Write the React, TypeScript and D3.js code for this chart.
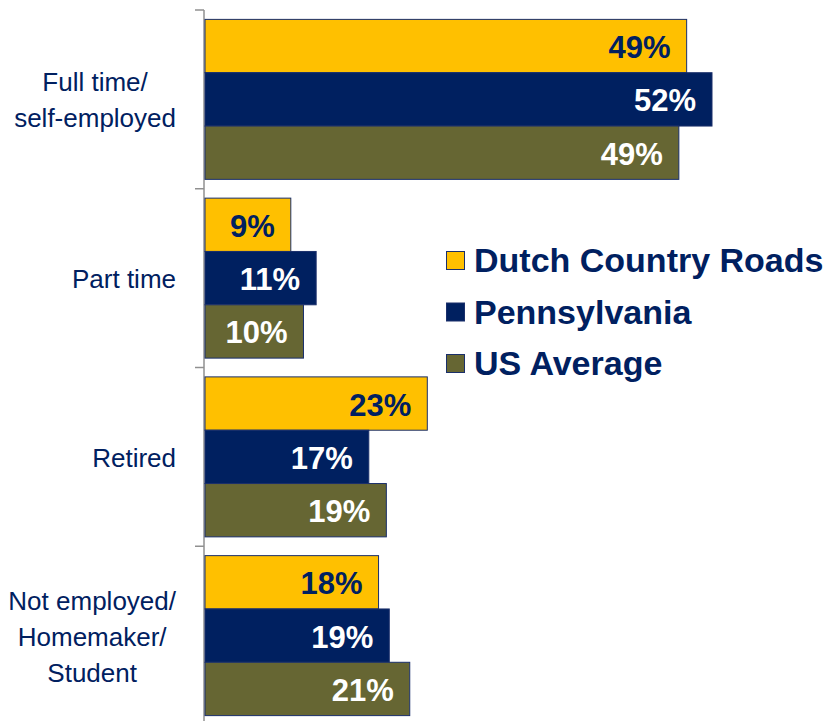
import React, { useEffect, useRef } from "react";
import * as d3 from "d3";

const width = 832;
const height = 721;

const categories = [
  ["Full time/", "self-employed"],
  ["Part time"],
  ["Retired"],
  ["Not employed/", "Homemaker/", "Student"],
];
const seriesNames = ["Dutch Country Roads", "Pennsylvania", "US Average"];
const dutchCountryRoads = [49.4, 8.8, 22.8, 17.8];
const pennsylvania = [52.0, 11.4, 16.8, 18.9];
const usAverage = [48.6, 10.1, 18.6, 21.0];

const colors = ["#FFC000", "#002060", "#666633"];
const labelColors = ["#002060", "#ffffff", "#ffffff"];
const navy = "#002060";

const App = () => {
  const svgRef = useRef<SVGSVGElement>(null);

  useEffect(() => {
    const svg = d3.select(svgRef.current);
    svg.selectAll("*").remove();

    const seriesValues = [dutchCountryRoads, pennsylvania, usAverage];

    // category bands along y, the axis runs past the bottom edge
    const yCat = d3
      .scaleBand<number>()
      .domain(d3.range(categories.length))
      .range([10, 725])
      .paddingInner(0.105)
      .paddingOuter(0.0525);

    const ySeries = d3
      .scaleBand<number>()
      .domain(d3.range(seriesNames.length))
      .range([0, yCat.bandwidth()]);

    const x = d3.scaleLinear().domain([0, 60]).range([205, 790]);

    // axis line with tick marks at the band boundaries
    const axisX = 204;
    svg
      .append("line")
      .attr("x1", axisX)
      .attr("x2", axisX)
      .attr("y1", 10)
      .attr("y2", 725)
      .attr("stroke", "#909090")
      .attr("stroke-width", 1.5);

    const step = yCat.step();
    const boundaries = d3.range(categories.length + 1).map((i) => 10 + i * step);
    svg
      .selectAll(".tick")
      .data(boundaries)
      .enter()
      .append("line")
      .attr("class", "tick")
      .attr("x1", 195)
      .attr("x2", axisX)
      .attr("y1", (d) => d)
      .attr("y2", (d) => d)
      .attr("stroke", "#909090")
      .attr("stroke-width", 1.5);

    // bars
    const groups = svg
      .selectAll(".cat")
      .data(categories)
      .enter()
      .append("g")
      .attr("class", "cat")
      .attr("transform", (d, i) => `translate(0,${yCat(i)})`);

    groups.each(function (cat, ci) {
      const g = d3.select(this);
      seriesValues.forEach((vals, si) => {
        const v = vals[ci];
        const y0 = ySeries(si)!;
        const bh = ySeries.bandwidth();
        g.append("rect")
          .attr("x", x(0))
          .attr("y", y0)
          .attr("width", x(v) - x(0))
          .attr("height", bh)
          .attr("fill", colors[si])
          .attr("stroke", "#1a2f6b")
          .attr("stroke-width", 1);
        g.append("text")
          .attr("x", x(v) - 16)
          .attr("y", y0 + bh / 2 + 12)
          .attr("text-anchor", "end")
          .attr("font-family", "'Liberation Sans', Arial, sans-serif")
          .attr("font-weight", "bold")
          .attr("font-size", 31)
          .attr("fill", labelColors[si])
          .text(`${Math.round(v)}%`);
      });
    });

    // category labels: each block centered, block right edge at 176
    const lineHeight = 36;
    categories.forEach((lines, ci) => {
      const center = yCat(ci)! + yCat.bandwidth() / 2;
      const t = svg
        .append("text")
        .attr("font-family", "'Liberation Sans', Arial, sans-serif")
        .attr("font-size", 26)
        .attr("fill", navy)
        .attr("text-anchor", "middle");
      const spans = lines.map((line, li) =>
        t
          .append("tspan")
          .attr("y", center - ((lines.length - 1) * lineHeight) / 2 + 10 + li * lineHeight)
          .text(line)
      );
      const maxW = d3.max(spans, (s) => (s.node() as SVGTSpanElement).getComputedTextLength()) || 0;
      spans.forEach((s) => s.attr("x", 176 - maxW / 2));
    });

    // legend
    const legend = svg
      .selectAll(".legend")
      .data(seriesNames)
      .enter()
      .append("g")
      .attr("class", "legend")
      .attr("transform", (d, i) => `translate(446,${272 + i * 51.5})`);

    legend
      .append("rect")
      .attr("x", 0.5)
      .attr("y", -20.5)
      .attr("width", 18)
      .attr("height", 18)
      .attr("fill", (d, i) => colors[i])
      .attr("stroke", "#1a2f6b")
      .attr("stroke-width", 1);

    legend
      .append("text")
      .attr("x", 28)
      .attr("y", 0)
      .attr("font-family", "'Liberation Sans', Arial, sans-serif")
      .attr("font-weight", "bold")
      .attr("font-size", 34)
      .attr("fill", navy)
      .text((d) => d);
  }, []);

  return (
    <svg
      ref={svgRef}
      width={width}
      height={height}
      style={{ position: "absolute", left: 0, top: 0, background: "#fff" }}
    ></svg>
  );
};

export default App;
